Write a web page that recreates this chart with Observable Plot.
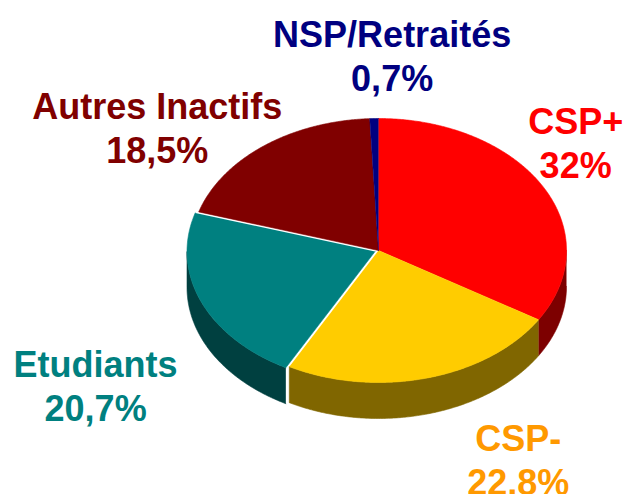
<!DOCTYPE html>
<html><head><meta charset="utf-8">
<script src="https://cdn.jsdelivr.net/npm/d3@7"></script>
<script src="https://cdn.jsdelivr.net/npm/@observablehq/plot@0.6"></script>
<style>body{margin:0;background:#fff}svg{display:block}</style>
</head><body><div id="chart"></div>
<script>
// ---- data ----
const categories = ["CSP+", "CSP-", "Etudiants", "Autres Inactifs", "NSP/Retraités"];
const values = [32, 22.8, 20.7, 18.5, 0.7];
const valueLabels = ["32%", "22,8%", "20,7%", "18,5%", "0,7%"];

// ---- styles / layout ----
const topColors = {"CSP+": "#ff0000", "CSP-": "#ffcc00", "Etudiants": "#008080", "Autres Inactifs": "#800000", "NSP/Retraités": "#000080"};
const sideColors = {"CSP+": "#7d0000", "CSP-": "#806600", "Etudiants": "#004040", "Autres Inactifs": "#400000", "NSP/Retraités": "#000040"};
const labelColors = {"CSP+": "#ff0000", "CSP-": "#ff9900", "Etudiants": "#008080", "Autres Inactifs": "#800000", "NSP/Retraités": "#000080"};
const explode = {"Etudiants": 0.02};
const depth = 36 / 132; // wall thickness in y units
const labelOffsets = {
  "CSP+": [33, -83], "CSP-": [91, 42], "Etudiants": [-109, 45],
  "Autres Inactifs": [-106, -58], "NSP/Retraités": [18, -103]
};

const pie = d3.pie().sort(null).value(d => d.value).startAngle(0).endAngle(2 * Math.PI);
const arcs = pie(categories.map((c, i) => ({category: c, value: values[i], label: valueLabels[i]})));

const tops = [], sides = [], labels = [];
arcs.forEach(a => {
  const cat = a.data.category;
  const mid = (a.startAngle + a.endAngle) / 2;
  const e = explode[cat] || 0;
  const ox = e * Math.sin(mid), oy = -e * Math.cos(mid);
  const step = Math.PI / 360;
  const pts = (t0, t1) => {
    const n = Math.max(2, Math.ceil((t1 - t0) / step));
    return d3.range(n + 1).map(i => t0 + (t1 - t0) * i / n);
  };
  tops.push({key: cat, x: ox, y: oy, fill: topColors[cat]});
  pts(a.startAngle, a.endAngle).forEach(t =>
    tops.push({key: cat, x: ox + Math.sin(t), y: oy - Math.cos(t), fill: topColors[cat]}));
  const s0 = Math.max(a.startAngle, Math.PI / 2), s1 = Math.min(a.endAngle, 3 * Math.PI / 2);
  if (s1 > s0) {
    const p = pts(s0, s1);
    p.forEach(t => sides.push({key: cat, x: ox + Math.sin(t), y: oy - Math.cos(t), fill: sideColors[cat]}));
    p.slice().reverse().forEach(t => sides.push({key: cat, x: ox + Math.sin(t), y: oy - Math.cos(t) + depth, fill: sideColors[cat]}));
  }
  labels.push({category: cat, text: cat + "\n" + a.data.label, x: Math.sin(mid), y: -Math.cos(mid)});
});

const textMarks = labels.map(l => Plot.text([l], {
  x: "x", y: "y", text: "text",
  dx: labelOffsets[l.category][0], dy: labelOffsets[l.category][1],
  fill: labelColors[l.category], fontSize: 36, fontWeight: "bold",
  lineAnchor: "top", lineHeight: 44 / 36, textAnchor: "middle"
}));

const chart = Plot.plot({
  width: 627, height: 494,
  margin: 0,
  style: {fontFamily: "'Liberation Sans', Arial, sans-serif", background: "#fff"},
  x: {domain: [-1, 1], range: [190, 566], axis: null},
  y: {domain: [-1, 1], range: [118, 382], axis: null},
  color: {type: "identity"},
  marks: [
    Plot.line(sides, {x: "x", y: "y", z: "key", fill: "fill", stroke: "fill", strokeWidth: 0.6, curve: "linear"}),
    Plot.line(tops, {x: "x", y: "y", z: "key", fill: "fill", stroke: "fill", strokeWidth: 0.6, curve: "linear"}),
    ...textMarks
  ]
});
document.getElementById("chart").append(chart);
</script>
</body></html>
